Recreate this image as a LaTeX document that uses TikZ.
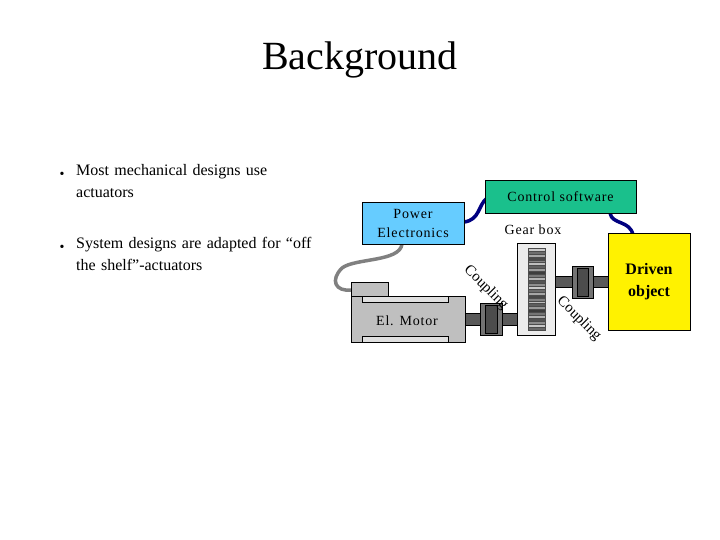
\documentclass[tikz,border=0pt]{standalone}
\usepackage{fontspec}
\setmainfont{Liberation Serif}
\definecolor{peblue}{HTML}{66CCFF}
\definecolor{csgreen}{HTML}{1AC08C}
\begin{document}
\begin{tikzpicture}[x=1pt,y=-1pt,
 box/.style={draw=black,line width=0.8pt},
 txt/.style={font=\fontsize{14}{18}\selectfont,align=center,inner sep=0pt},
 btxt/.style={font=\fontsize{16}{22}\selectfont,align=left,anchor=north west,inner sep=0pt,text width=270pt},
 cpl/.style={draw=black,fill=gray!90!black},
 cable/.style={line width=3.5pt,line cap=round}]
\useasboundingbox (0,0) rectangle (720,540);
\node[font=\fontsize{40}{44}\selectfont] (title) at (360,60) {Background};
\node[font=\fontsize{14}{16}\selectfont] (b1) at (62,175) {\textbullet};
\node[btxt] (t1) at (76,164) {Most mechanical designs use\\actuators};
\node[font=\fontsize{14}{16}\selectfont] (b2) at (62,248) {\textbullet};
\node[btxt] (t2) at (76,237) {System designs are adapted for “off\\the shelf”-actuators};
% cables
\draw[cable,gray] (402,244) .. controls (400,262) and (355,258) .. (342,268) .. controls (330,280) and (335,292) .. (352,290);
\draw[cable,blue!50!black] (464,222) .. controls (480,220) and (478,205) .. (487,198);
\draw[cable,blue!50!black] (610,213) .. controls (612,225) and (630,220) .. (633,235);
% boxes
\node[box,fill=peblue,minimum width=102pt,minimum height=42pt,txt,font=\fontsize{14}{19}\selectfont\addfontfeature{LetterSpace=6}] (pe) at (413,223) {Power\\Electronics};
\node[box,fill=csgreen,minimum width=151pt,minimum height=33pt,txt,font=\fontsize{14}{18}\selectfont\addfontfeature{LetterSpace=6}] (cs) at (560.5,196.5) {Control software};
\node[box,fill=yellow,minimum width=82pt,minimum height=97pt,font=\bfseries\fontsize{16}{22}\selectfont,align=center] (dr) at (649,281.5) {Driven\\object};
% shafts
\draw[fill=gray!70!black] (465,313) rectangle (517,325);
\draw[fill=gray!70!black] (555,276) rectangle (608,287);
% couplings
\draw[cpl] (480,303) rectangle (502,335);
\draw[fill=gray!60!black] (485,305) rectangle (497,333);
\draw[cpl] (572,266) rectangle (593,298);
\draw[fill=gray!60!black] (577,268) rectangle (588,296);
% motor
\draw[box,fill=gray!50] (351,282) rectangle (388,296);
\node[box,fill=gray!50,minimum width=114pt,minimum height=46pt,txt,anchor=north west] (mot) at (351,296) {};
\draw[fill=gray!25] (362,296) rectangle (448,302);
\draw[fill=gray!25] (362,336) rectangle (448,342);
\node[txt,font=\fontsize{14}{18}\selectfont\addfontfeature{LetterSpace=6}] (mlab) at (407,321) {El. Motor};
% gear box
\draw[box,fill=gray!15] (517,243) rectangle (555,335);
\foreach \i in {0,...,27}{
 \pgfmathsetmacro\g{int(mod(\i*37,60)+20)}
 \draw[fill=black!\g!white,draw=black!70] (528,248+\i*2.93) rectangle (545,248+\i*2.93+2.93);}
\node[txt,font=\fontsize{14}{18}\selectfont\addfontfeature{LetterSpace=6}] (gb) at (533,230) {Gear box};
\node[txt,rotate=-45,font=\fontsize{15}{18}\selectfont] (c1) at (486,288) {Coupling};
\node[txt,rotate=-45,font=\fontsize{15}{18}\selectfont] (c2) at (579,319) {Coupling};
\end{tikzpicture}
\end{document}
